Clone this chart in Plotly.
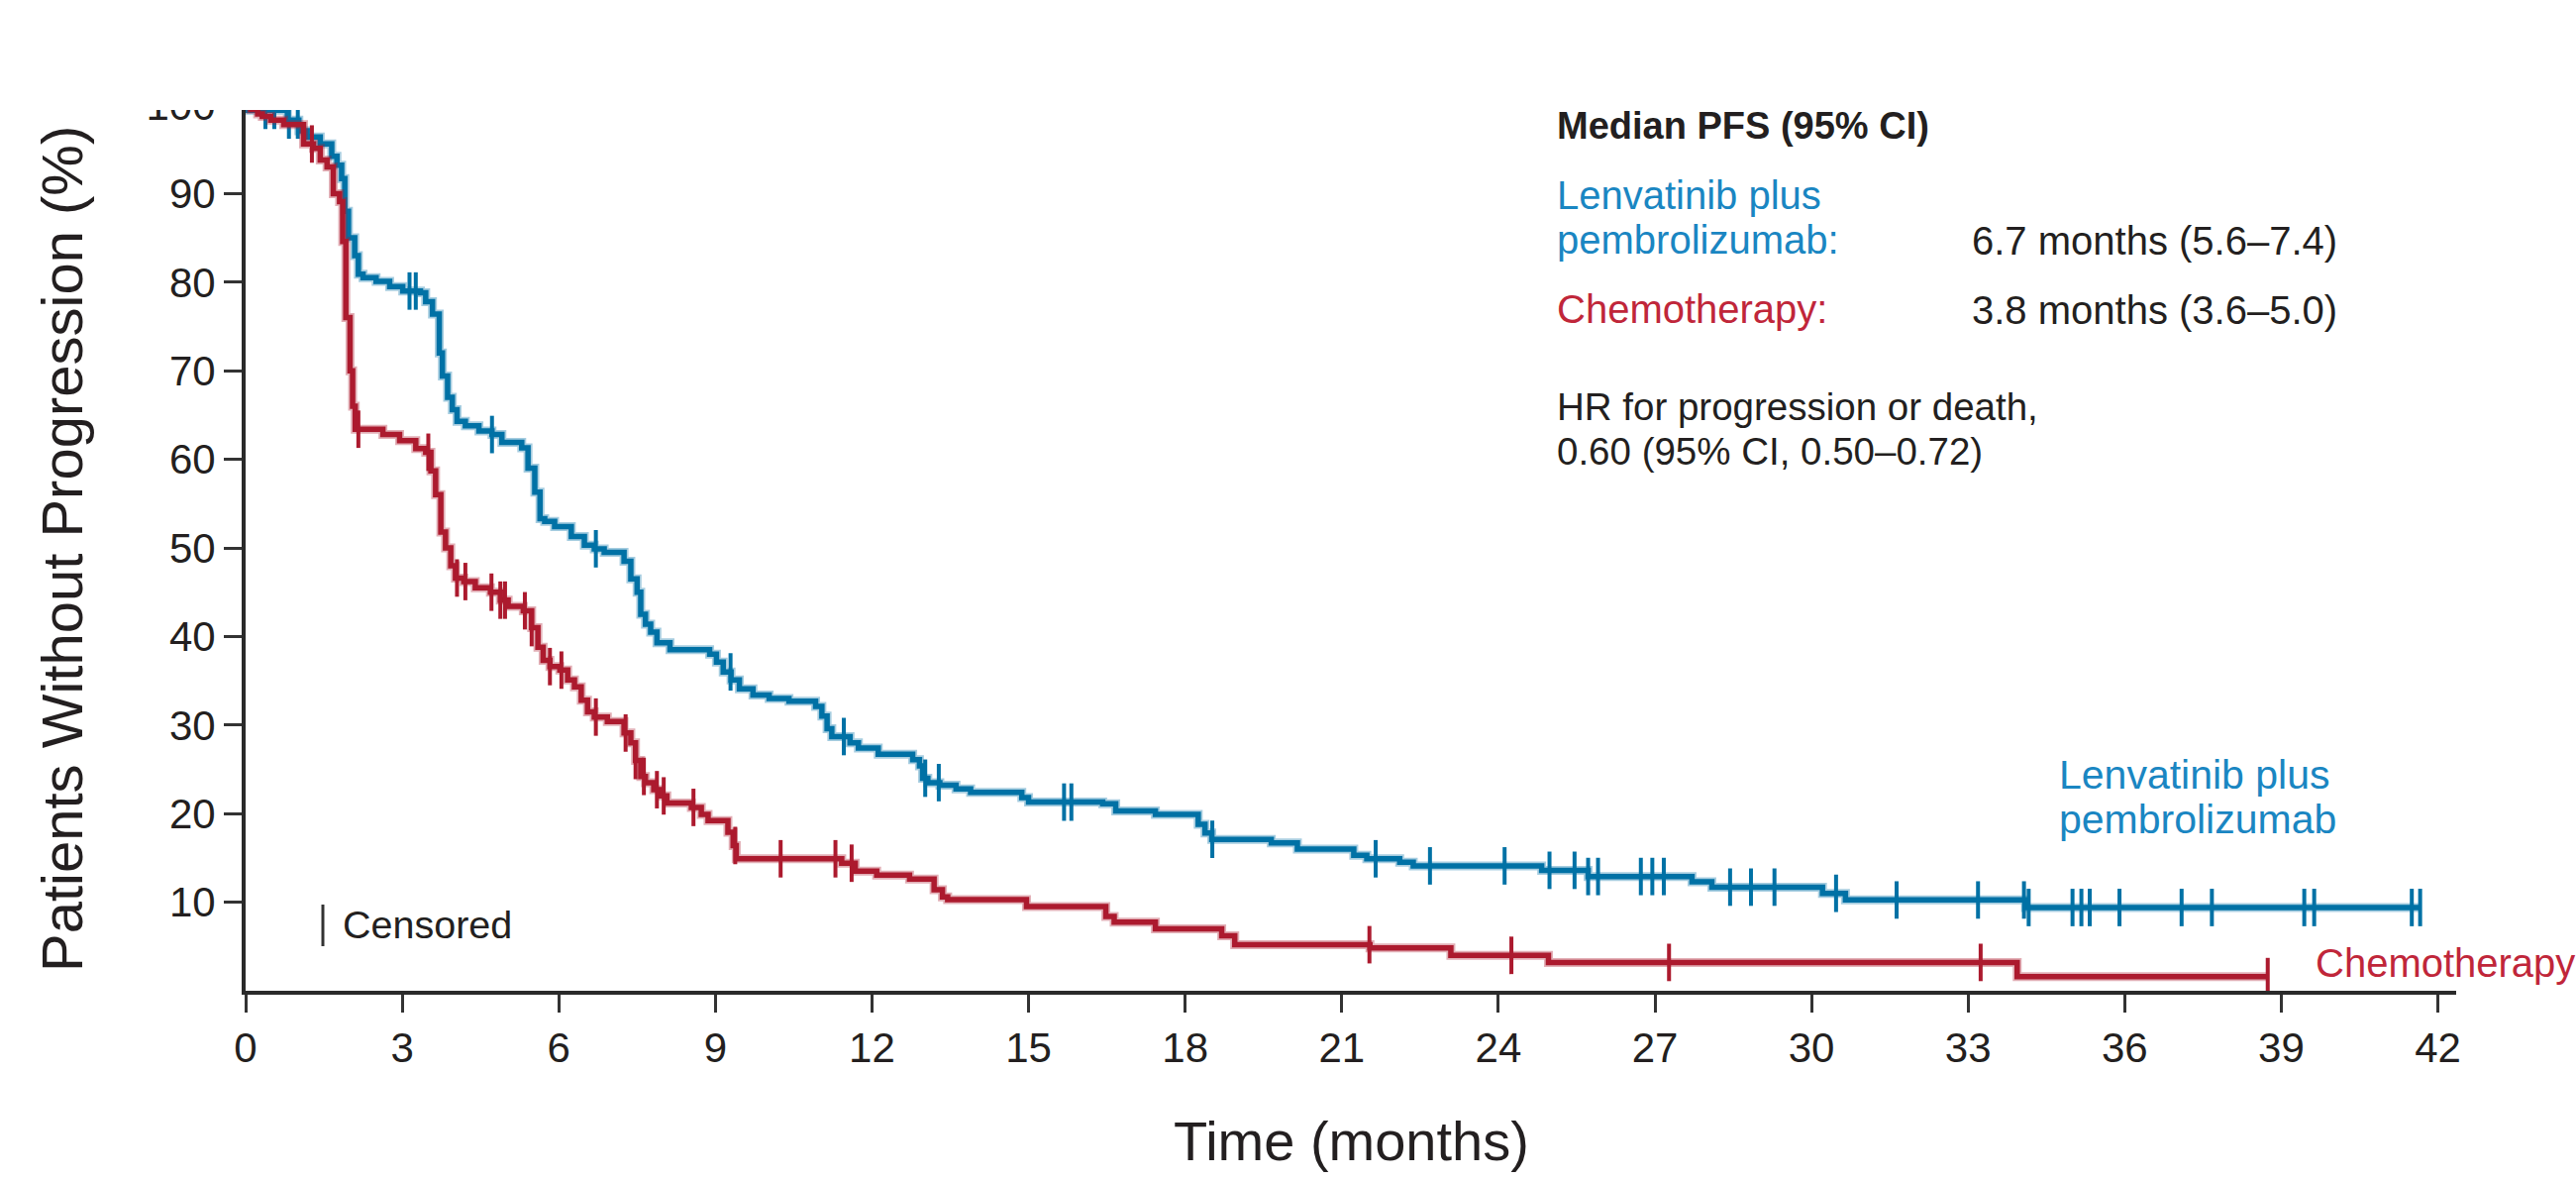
import numpy as np
import plotly.graph_objects as go

# Kaplan-Meier estimates: time (months) of each step and % without progression after it
lenva_time = [0, 0.05, 0.80, 1.02, 1.18, 1.43, 1.65, 1.75, 1.84, 1.90,
              1.97, 2.09, 2.16, 2.25, 2.50, 2.76, 3.01, 3.35, 3.45, 3.58,
              3.71, 3.77, 3.87, 3.96, 4.05, 4.21, 4.47, 4.72, 4.91, 5.29,
              5.41, 5.54, 5.64, 5.73, 5.92, 6.24, 6.49, 6.68, 6.87, 7.25,
              7.38, 7.50, 7.57, 7.66, 7.76, 7.88, 8.13, 8.89, 9.02, 9.15,
              9.30, 9.46, 9.72, 10.03, 10.41, 10.92, 11.04, 11.14, 11.23, 11.58,
              11.74, 12.12, 12.78, 12.91, 12.97, 13.07, 13.30, 13.61, 13.89, 14.87,
              15.00, 16.42, 16.67, 17.43, 18.25, 18.38, 18.51, 19.65, 20.15, 21.23,
              21.48, 22.11, 22.37, 24.83, 25.72, 27.71, 28.09, 30.21, 30.65, 34.10]
lenva_surv = [100, 99.4, 98.3, 97.1, 96.4, 95.6, 94.2, 93.2, 91.7, 88.0,
              85.0, 83.0, 80.9, 80.5, 80.1, 79.5, 79.0, 78.8, 77.8, 76.4,
              72.0, 69.4, 67.0, 65.6, 64.3, 63.8, 63.2, 62.8, 61.9, 61.3,
              59.0, 56.3, 53.3, 53.0, 52.4, 51.3, 50.3, 49.9, 49.5, 48.5,
              46.5, 45.0, 42.5, 41.4, 40.5, 39.3, 38.5, 38.0, 37.1, 36.0,
              35.1, 34.1, 33.4, 33.0, 32.7, 32.1, 31.0, 29.6, 28.7, 28.0,
              27.4, 26.7, 26.1, 25.4, 24.0, 23.5, 23.2, 22.8, 22.4, 21.8,
              21.3, 21.1, 20.3, 19.9, 18.8, 17.8, 17.1, 16.7, 16.0, 15.3,
              14.9, 14.5, 14.1, 13.6, 12.9, 12.3, 11.7, 11.0, 10.25, 9.4]
lenva_censor = [0.38, 0.55, 0.83, 1.00, 3.14, 3.26, 4.72, 6.71, 9.29, 11.46,
                13.02, 13.28, 15.68, 15.82, 18.52, 21.65, 22.69, 24.12, 24.98, 25.46,
                25.72, 25.91, 26.73, 26.95, 27.17, 28.44, 28.84, 29.29, 30.47, 31.63,
                33.19, 34.07, 34.16, 35.00, 35.17, 35.33, 35.90, 37.09, 37.67, 39.44,
                39.63, 41.50, 41.66]
lenva_end = 41.66

chemo_time = [0, 0.10, 0.23, 0.32, 0.48, 0.73, 1.11, 1.30, 1.43, 1.56,
              1.68, 1.80, 1.86, 1.92, 2.00, 2.05, 2.10, 2.63, 2.95, 3.26,
              3.45, 3.55, 3.64, 3.74, 3.83, 3.93, 4.02, 4.18, 4.40, 4.69,
              4.88, 5.03, 5.32, 5.48, 5.60, 5.70, 5.83, 6.02, 6.17, 6.30,
              6.43, 6.55, 6.68, 6.93, 7.25, 7.38, 7.47, 7.57, 7.66, 7.82,
              7.94, 8.07, 8.54, 8.73, 8.86, 9.24, 9.34, 9.40, 11.42, 11.68,
              12.09, 12.72, 13.19, 13.35, 13.45, 14.96, 16.48, 16.64, 17.43, 18.70,
              18.95, 21.54, 23.09, 24.96, 33.94]
chemo_surv = [100, 99.5, 99.0, 98.7, 98.3, 97.8, 95.6, 95.1, 93.8, 93.0,
              90.0, 89.1, 84.6, 76.0, 70.0, 66.0, 63.4, 62.8, 62.1, 61.2,
              60.8, 58.7, 56.0, 51.8, 50.0, 48.0, 46.6, 46.2, 45.5, 45.0,
              44.1, 43.4, 42.9, 41.0, 38.8, 37.3, 36.6, 36.2, 35.1, 34.3,
              32.8, 31.5, 30.9, 30.4, 29.1, 28.0, 26.0, 24.2, 23.5, 22.7,
              22.0, 21.2, 20.7, 19.9, 19.2, 17.9, 16.4, 14.9, 14.4, 13.5,
              13.05, 12.6, 11.4, 10.6, 10.3, 9.5, 8.4, 7.75, 7.0, 6.2,
              5.2, 4.85, 4.0, 3.2, 1.6]
chemo_censor = [1.27, 2.16, 3.50, 4.05, 4.21, 4.71, 4.88, 4.97, 5.35, 5.48,
                5.83, 6.05, 6.71, 7.28, 7.47, 7.63, 7.88, 8.01, 8.58, 9.38,
                10.25, 11.30, 11.61, 21.53, 24.25, 27.27, 33.24, 38.74]
chemo_end = 38.74

x_ticks = list(range(0, 43, 3))
y_ticks = list(range(10, 101, 10))

BLUE, BLUE_HALO, BLUE_TEXT = "#0071a5", "rgba(0,113,165,0.35)", "#1a86c2"
RED, RED_HALO, RED_TEXT = "#ac1a2e", "rgba(172,26,46,0.35)", "#c0263a"
INK = "#231f20"
FONT = "Liberation Sans, Arial, Helvetica, sans-serif"

W, H = 2601, 1191
ML, MR, MT, MB = 248, 121, 106, 191


def px_x(x):
    return (x - ML) / (W - ML - MR)


def px_y(y):
    return (H - MB - y) / (H - MT - MB)


def step_path(times, surv, end):
    return list(times) + [end], list(surv) + [surv[-1]]


def surv_at(times, surv, t):
    idx = np.searchsorted(np.asarray(times), np.asarray(t), side="right") - 1
    return np.asarray(surv)[idx]


fig = go.Figure()
arms = [
    ("Lenvatinib plus pembrolizumab", lenva_time, lenva_surv, lenva_end, lenva_censor, BLUE, BLUE_HALO),
    ("Chemotherapy", chemo_time, chemo_surv, chemo_end, chemo_censor, RED, RED_HALO),
]
for name, times, surv, end, cens, col, halo in arms:
    xs, ys = step_path(times, surv, end)
    fig.add_trace(go.Scatter(x=xs, y=ys, mode="lines", showlegend=False, hoverinfo="skip",
                             line=dict(shape="hv", color=halo, width=9)))
    fig.add_trace(go.Scatter(x=xs, y=ys, mode="lines", name=name, showlegend=False,
                             line=dict(shape="hv", color=col, width=5.5)))
    fig.add_trace(go.Scatter(x=cens, y=surv_at(times, surv, cens), mode="markers",
                             name=name + " (censored)", showlegend=False,
                             marker=dict(symbol="line-ns", size=27,
                                         line=dict(width=4, color=col))))

axis_common = dict(showgrid=False, zeroline=False, showline=True, linewidth=4,
                   linecolor="#2a2a2a", ticks="outside", ticklen=18, tickwidth=3,
                   tickcolor="#333333", tickfont=dict(family=FONT, size=42, color=INK))
fig.update_xaxes(range=[0, 42.35], tickmode="array", tickvals=x_ticks, **axis_common)
fig.update_yaxes(range=[0, 100], tickmode="array", tickvals=y_ticks, **axis_common)

annotations = [
    dict(text="Time (months)", x=px_x(1364), y=px_y(1151), size=56, color=INK, anchor="center"),
    dict(text="Median PFS (95% CI)", x=px_x(1570), y=px_y(127), size=38, color=INK, bold=True),
    dict(text="Lenvatinib plus", x=px_x(1570), y=px_y(197), size=40, color=BLUE_TEXT),
    dict(text="pembrolizumab:", x=px_x(1570), y=px_y(242), size=40, color=BLUE_TEXT),
    dict(text="6.7 months (5.6\u20137.4)", x=px_x(1989), y=px_y(243), size=40, color=INK),
    dict(text="Chemotherapy:", x=px_x(1570), y=px_y(312), size=40, color=RED_TEXT),
    dict(text="3.8 months (3.6\u20135.0)", x=px_x(1989), y=px_y(313), size=40, color=INK),
    dict(text="HR for progression or death,", x=px_x(1570), y=px_y(410), size=38.5, color=INK),
    dict(text="0.60 (95% CI, 0.50\u20130.72)", x=px_x(1570), y=px_y(455), size=38.5, color=INK),
    dict(text="Lenvatinib plus", x=px_x(2077), y=px_y(782), size=41, color=BLUE_TEXT),
    dict(text="pembrolizumab", x=px_x(2077), y=px_y(827), size=41, color=BLUE_TEXT),
    dict(text="Chemotherapy", x=px_x(2336), y=px_y(972), size=40, color=RED_TEXT),
    dict(text="Censored", x=px_x(344), y=px_y(933), size=39.5, color=INK),
]
for a in annotations:
    txt = "<b>" + a["text"] + "</b>" if a.get("bold") else a["text"]
    fig.add_annotation(text=txt, x=a["x"], y=a["y"], xref="paper", yref="paper",
                       xanchor=a.get("anchor", "left"), yanchor="middle", showarrow=False,
                       font=dict(family=FONT, size=a["size"], color=a["color"]))

fig.add_annotation(text="Patients Without Progression (%)", x=px_x(62), y=px_y(554),
                   xref="paper", yref="paper", xanchor="center", yanchor="middle",
                   textangle=-90, showarrow=False,
                   font=dict(family=FONT, size=58, color=INK))

# censor symbol key
fig.add_shape(type="line", xref="paper", yref="paper",
              x0=px_x(326), x1=px_x(326), y0=px_y(913), y1=px_y(955),
              line=dict(color="#333333", width=3))
# page edge trims the top of the frame
fig.add_shape(type="rect", xref="paper", yref="paper", layer="above",
              x0=-0.2, x1=1.2, y0=px_y(111), y1=px_y(-5),
              fillcolor="white", line=dict(width=0))

fig.update_layout(width=W, height=H, margin=dict(l=ML, r=MR, t=MT, b=MB),
                  paper_bgcolor="white", plot_bgcolor="white", showlegend=False,
                  font=dict(family=FONT, color=INK))

fig.write_html("out.html")
